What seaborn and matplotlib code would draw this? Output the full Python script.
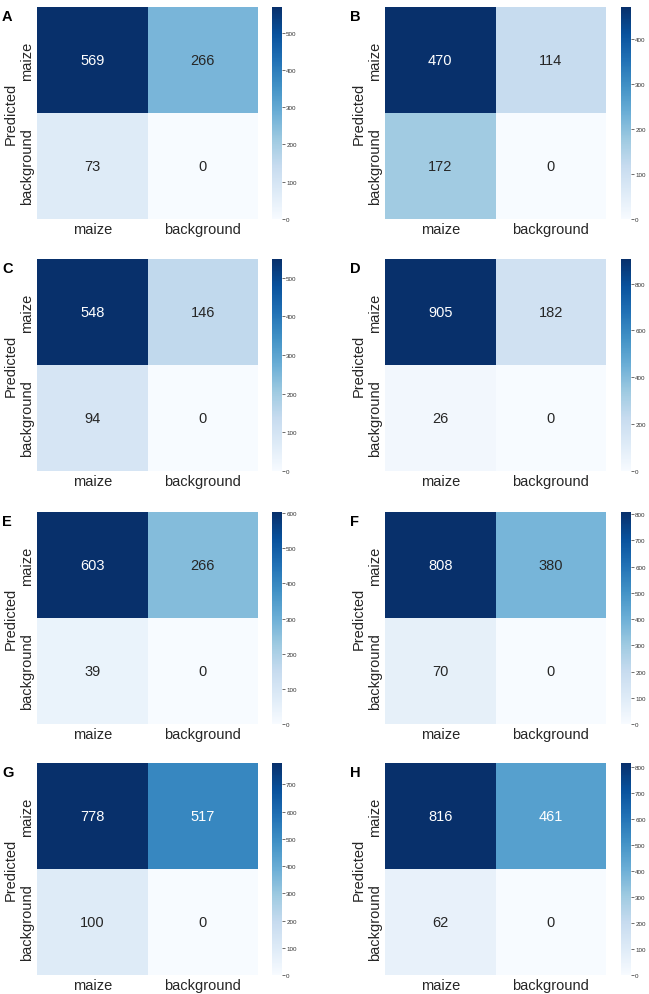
import numpy as np
import matplotlib
matplotlib.use("Agg")
import matplotlib.pyplot as plt
import seaborn as sns

sns.set_theme(style="white")
plt.rcParams['font.family'] = ['Liberation Sans', 'DejaVu Sans']

labels = ["maize", "background"]
panel_names = ["A", "B", "C", "D", "E", "F", "G", "H"]

cm_a = [[569, 266], [73, 0]]
cm_b = [[470, 114], [172, 0]]
cm_c = [[548, 146], [94, 0]]
cm_d = [[905, 182], [26, 0]]
cm_e = [[603, 266], [39, 0]]
cm_f = [[808, 380], [70, 0]]
cm_g = [[778, 517], [100, 0]]
cm_h = [[816, 461], [62, 0]]
matrices = [cm_a, cm_b, cm_c, cm_d, cm_e, cm_f, cm_g, cm_h]

W, H = 649, 995
fig = plt.figure(figsize=(W / 100, H / 100), dpi=100)

# pixel layout: (heatmap left, colorbar left) per column, top per row
col_x = [(37, 272), (385, 621)]
row_y = [8, 260, 513, 764]
hm_w, hm_h, cb_w = 221, 212, 10

for i, (name, cm) in enumerate(zip(panel_names, matrices)):
    r, c = divmod(i, 2)
    hx, cx = col_x[c]
    top = row_y[r]
    ax = fig.add_axes([hx / W, 1 - (top + hm_h) / H, hm_w / W, hm_h / H])
    cax = fig.add_axes([cx / W, 1 - (top + hm_h) / H, cb_w / W, hm_h / H])
    sns.heatmap(np.array(cm), annot=True, fmt="d", cmap="Blues", ax=ax, cbar_ax=cax,
                xticklabels=labels, yticklabels=labels, vmin=0,
                annot_kws={"fontsize": 10.5})
    ax.set_ylabel("Predicted", fontsize=10.5, color="#262626", labelpad=2)
    ax.tick_params(axis="both", length=0, labelsize=10.5, colors="#262626", pad=2)
    ax.set_yticklabels(labels, rotation=90, va="center")
    ax.set_xticklabels(labels, rotation=0)
    cax.tick_params(labelsize=4.5, length=2, width=0.5, pad=1, colors="#333333")
    cax.yaxis.set_major_locator(matplotlib.ticker.MultipleLocator(200 if max(map(max, cm)) > 850 else 100))
    for s in cax.spines.values():
        s.set_visible(False)
    fig.text((hx - 35) / W, 1 - (top + 2) / H, name, fontsize=10.5, fontweight="bold",
             va="top", ha="left", color="black")

fig.savefig("out.png", dpi=100)
